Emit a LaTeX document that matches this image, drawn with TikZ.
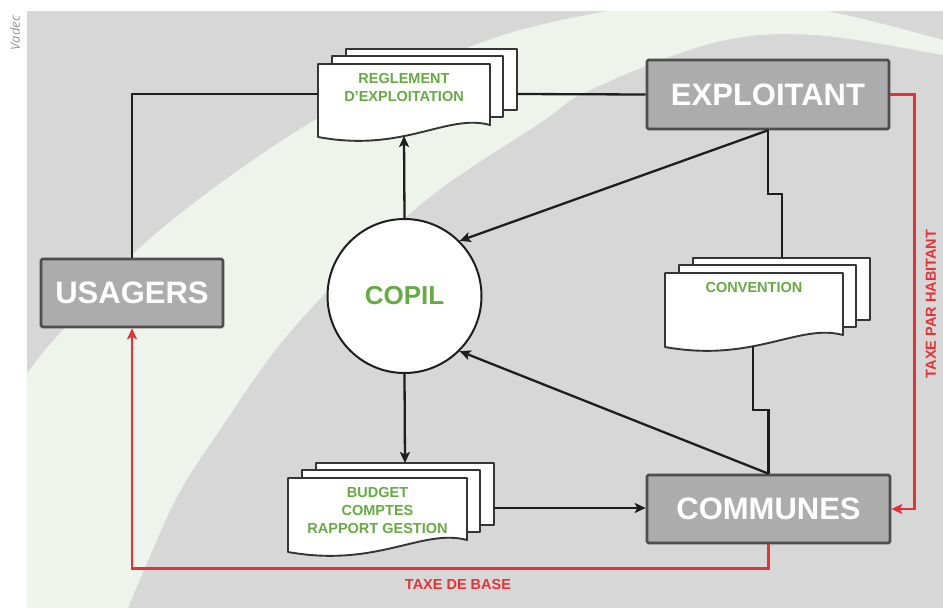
\documentclass[tikz,border=0pt]{standalone}
\usepackage{fontspec}
\setmainfont{Liberation Sans}
\newfontfamily\creditfont{Open Sans}
\usetikzlibrary{arrows.meta}

\definecolor{bggray}{RGB}{215,215,215}
\definecolor{bandcol}{RGB}{238,243,236}
\definecolor{boxfill}{RGB}{172,172,172}
\definecolor{boxline}{RGB}{78,78,78}
\definecolor{docgreen}{RGB}{102,170,68}
\definecolor{taxred}{RGB}{224,52,56}
\definecolor{inkline}{RGB}{30,30,30}
\definecolor{creditgray}{RGB}{150,150,150}

% stack of three sheets: #1 left, #2 top, #3 right, #4 bottom-left, #5 bottom-right of the front sheet
\newcommand\docstack[5]{%
  \draw[sheet] ({#1+28},{#2-15}) rectangle ({#3+27},{#5-15});
  \draw[sheet] ({#1+14},{#2-8}) rectangle ({#3+13},{#5-8});
  \draw[sheet] (#1,#2) -- (#3,#2) -- (#3,#5)
    .. controls ({#3-0.25*(#3-#1)},{#5-12}) and ({#1+0.5*(#3-#1)},{#4+16}) .. (#1,#4) -- cycle;
}

\begin{document}
\begin{tikzpicture}[x=1pt,y=-1pt,
  actor/.style={draw=boxline, line width=2.6pt, fill=boxfill, rounded corners=1.5pt,
    text=white, font=\bfseries\fontsize{31}{31}\selectfont, inner sep=0pt},
  sheet/.style={draw=inkline!90, line width=1.9pt, fill=white, line join=round},
  doctext/.style={text=docgreen, font=\bfseries\fontsize{14.5}{17.5}\selectfont, align=center, inner sep=0pt},
  flow/.style={draw=inkline, line width=2.3pt, -{Stealth[length=11pt,width=10pt,inset=2.5pt]}},
  link/.style={draw=inkline, line width=2.3pt},
  tax/.style={draw=taxred, line width=2.6pt, -{Stealth[length=11pt,width=10pt,inset=2.5pt]}},
  taxlabel/.style={text=taxred, font=\bfseries\fontsize{14.5}{14.5}\selectfont, inner sep=0pt}
]
\useasboundingbox (0,0) rectangle (943,608);

% backdrop with the pale sweeping band
\begin{scope}
  \clip (27,11) rectangle (943,608);
  \fill[bggray] (27,11) rectangle (943,608);
  \fill[bandcol] plot[smooth, tension=0.6] coordinates {(10,395) (27,373) (63,330) (160,230) (320,117) (480,43) (607,11) (717,-4) (827,11) (943,40) (965,48)}
    -- plot[smooth, tension=0.6] coordinates {(965,60) (943,55) (813,35) (713,43) (590,90) (540,123) (420,205) (296,325) (213,440) (177,497) (147,563) (128,608) (122,625)}
    -- (-20,640) -- (-20,395) -- cycle;
\end{scope}

\node[rotate=90, text=creditgray, font=\creditfont\itshape\fontsize{13}{13}\selectfont, inner sep=0pt] (credit) at (15,33) {Vadec};

% document stacks
\docstack{318}{64}{490}{137}{125}
\docstack{665}{273}{843}{347}{335}
\docstack{288}{478}{467}{552}{540}

\node[doctext] (regtext) at (404,87.5) {REGLEMENT\\D'EXPLOITATION};
\node[doctext] (convtext) at (754,288) {CONVENTION};
\node[doctext, font=\bfseries\fontsize{14.5}{18}\selectfont] (budtext) at (377.5,511) {BUDGET\\COMPTES\\RAPPORT GESTION};

\coordinate (regleft) at (318,94);
\coordinate (regright) at (517,94);
\coordinate (regbot) at (404,136);
\coordinate (convtop) at (782,258);
\coordinate (convbot) at (753,346);
\coordinate (budtop) at (405,463);
\coordinate (budright) at (494,508);

% actors
\node[actor, minimum width=242pt, minimum height=69pt] (exp) at (768,94.5) {EXPLOITANT};
\node[actor, minimum width=243pt, minimum height=68pt] (com) at (768.5,509) {COMMUNES};
\node[actor, minimum width=182pt, minimum height=68pt] (usa) at (132,293) {USAGERS};
\node[circle, draw=inkline, line width=2pt, fill=white, minimum size=154pt, inner sep=0pt,
  text=docgreen, font=\bfseries\fontsize{26}{26}\selectfont] (copil) at (404.5,296) {COPIL};

% black links
\draw[link] (usa.north) |- (regleft);
\draw[link] (regright) -- (exp.west);
\draw[link] (exp.south) -- ++(0,64) -| (convtop);
\draw[link] (convbot) -- ++(0,64) -| (com.north);
\draw[flow] (copil.north) -- (regbot);
\draw[flow] (copil.south) -- (budtop);
\draw[flow] (budright) -- (budright -| com.west);
\draw[flow] (exp.south) -- (copil.north east);
\draw[flow] (com.north) -- (copil.south east);

% taxes
\draw[tax] (exp.east) -- ++(24,0) |- (com.east);
\draw[tax] (com.south) -- ++(0,24) -| (usa.south);
\node[taxlabel, rotate=90] (taxhab) at (931,304) {TAXE PAR HABITANT};
\node[taxlabel] (taxbase) at (458,585) {TAXE DE BASE};
\end{tikzpicture}
\end{document}
